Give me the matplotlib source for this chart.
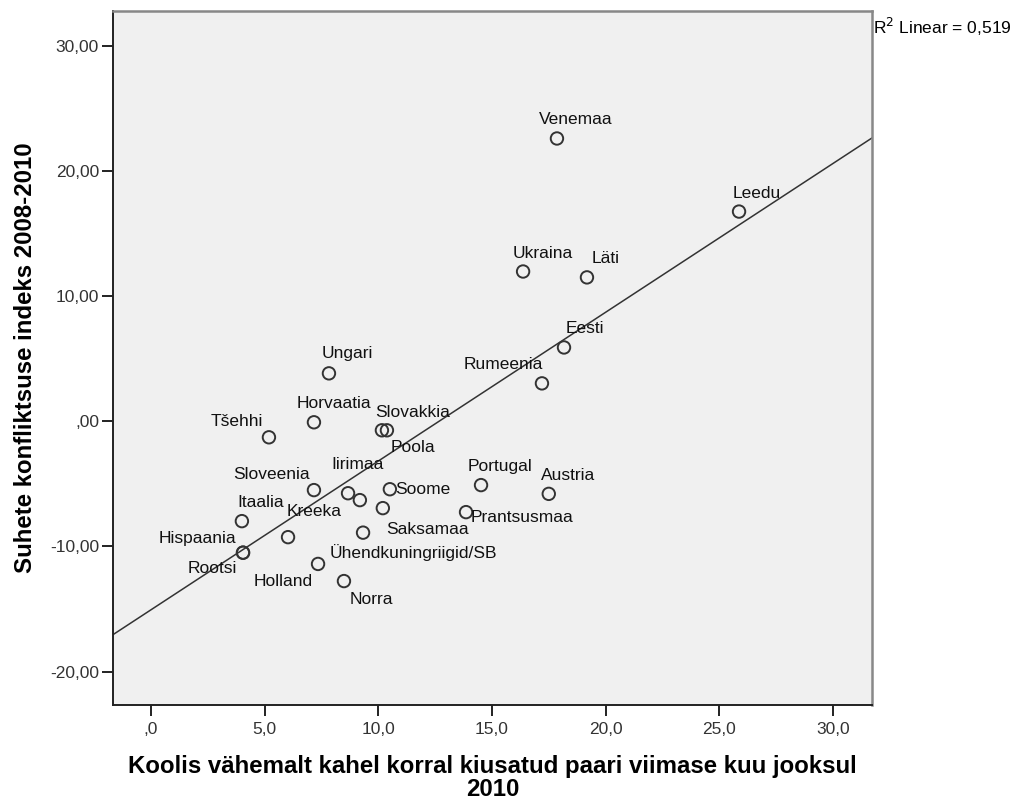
import numpy as np
import matplotlib
matplotlib.use("Agg")
import matplotlib.pyplot as plt

plt.rcParams['font.family'] = ['Liberation Sans', 'DejaVu Sans']

# riigid, kiusamise % (x) ja konfliktsuse indeks (y), loetud pildilt
countries = ['Venemaa', 'Leedu', 'Ukraina', 'Läti', 'Eesti', 'Rumeenia', 'Ungari',
             'Horvaatia', 'Tšehhi', 'Slovakkia', 'Poola', 'Sloveenia', 'Iirimaa',
             'Kreeka', 'Soome', 'Saksamaa', 'Ühendkuningriigid/SB', 'Holland', 'Norra',
             'Itaalia', 'Hispaania', 'Rootsi', 'Portugal', 'Austria', 'Prantsusmaa', '']
bully = [17.86, 25.87, 16.37, 19.18, 18.17, 17.20, 7.83,
         7.17, 5.19, 10.16, 10.38, 7.17, 8.67,
         6.03, 10.51, 10.20, 9.33, 7.35, 8.49,
         4.00, 4.05, 4.05, 14.52, 17.50, 13.86, 9.19]
conflict = [22.60, 16.76, 11.97, 11.50, 5.90, 3.03, 3.83,
            -0.08, -1.28, -0.72, -0.72, -5.50, -5.75,
            -9.26, -5.43, -6.94, -8.90, -11.40, -12.77,
            -7.98, -10.50, -10.50, -5.10, -5.80, -7.26, -6.30]

# sildi keskpunkti nihe punkti suhtes (pikslites)
label_dx = [18.5, 18, 19.5, 18.5, 20.5, -38.5, 18.5, 19.5, -32, 31, 26, -42.5, 9.5,
            26.5, 33, 44.5, 50, -34.5, 27.5, 18.5, -45.5, -30.5, 19, 19, 55.5, 0]
label_dy = [19, 18, 18, 19, 19, 19, 20, 19, 16, 18, -17, 16, 29,
            26, 0, -21, -20, -18, -18, 19, 14, -16, 19, 18, -5, 0]

x_ticks = [0, 5, 10, 15, 20, 25, 30]
x_ticklabels = [',0', '5,0', '10,0', '15,0', '20,0', '25,0', '30,0']
y_ticks = [-20, -10, 0, 10, 20, 30]
y_ticklabels = ['-20,00', '-10,00', ',00', '10,00', '20,00', '30,00']

fig = plt.figure(figsize=(10.18, 8.02), dpi=100)
ax = fig.add_axes([0.111, 0.121, 0.7456, 0.865])
ax.set_facecolor('#f0f0f0')

xlim = (-1.67, 31.72)
ax.set_xlim(*xlim)
ax.set_ylim(-22.67, 32.77)

# lineaarne regressioonijoon
slope, intercept = np.polyfit(bully, conflict, 1)
xs = np.array(xlim)
ax.plot(xs, slope * xs + intercept, color='#333333', lw=1.1, zorder=2)

ax.scatter(bully, conflict, s=80, facecolors='none', edgecolors='#333333',
           linewidths=1.4, zorder=3)

for name, x, y, dx, dy in zip(countries, bully, conflict, label_dx, label_dy):
    if name:
        ax.annotate(name, (x, y), xytext=(dx * 0.72, dy * 0.72), textcoords='offset points',
                    ha='center', va='center', fontsize=12.5, color='#111111', zorder=4)

ax.set_xticks(x_ticks)
ax.set_xticklabels(x_ticklabels)
ax.set_yticks(y_ticks)
ax.set_yticklabels(y_ticklabels)
ax.tick_params(direction='out', length=8, width=1.4, labelsize=12.5, colors='#222222',
               labelcolor='#333333', pad=2)
ax.tick_params(axis='x', pad=4)

for side in ['left', 'bottom']:
    ax.spines[side].set_color('#222222')
    ax.spines[side].set_linewidth(1.4)
for side in ['top', 'right']:
    ax.spines[side].set_color('#888888')
    ax.spines[side].set_linewidth(1.8)

ax.set_xlabel('Koolis vähemalt kahel korral kiusatud paari viimase kuu jooksul\n2010',
              fontsize=17.3, fontweight='bold', linespacing=1.0)
ax.xaxis.set_label_coords(0.5, -0.072)
ax.set_ylabel('Suhete konfliktsuse indeks 2008-2010', fontsize=17.3, fontweight='bold')
ax.yaxis.set_label_coords(-0.100, 0.5)

fig.text(0.858, 0.967, 'R$^2$ Linear = 0,519', fontsize=12.5, ha='left', va='center')

fig.savefig('out.png', dpi=100)
